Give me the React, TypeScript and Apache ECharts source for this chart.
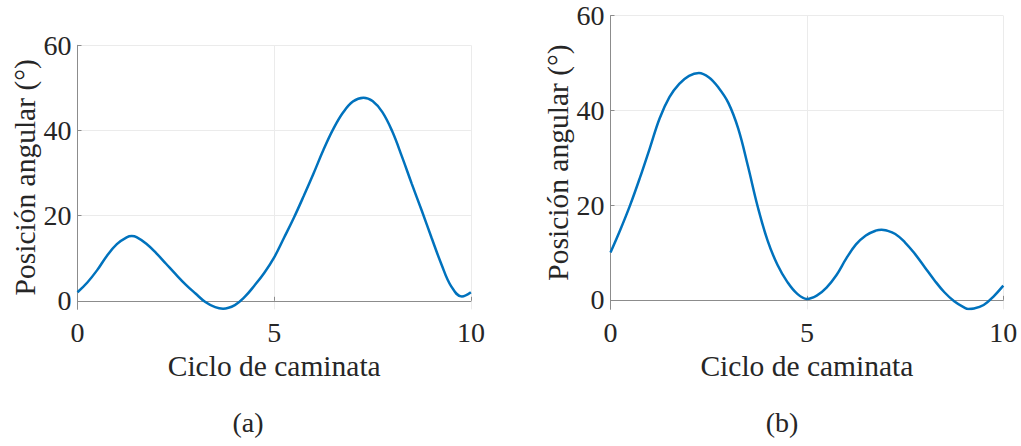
import React, { useEffect, useRef } from "react";
import * as echarts from "echarts";

const xTicks = [0, 5, 10];
const yTicks = [0, 20, 40, 60];

const xA = [0, 0.25, 0.5, 0.75, 1.0, 1.25, 1.38, 1.5, 1.75, 2.0, 2.25, 2.5, 2.75, 3.0, 3.25, 3.5, 3.7, 4.0, 4.25, 4.5, 4.75, 5.0, 5.25, 5.5, 5.75, 6.0, 6.25, 6.5, 6.75, 7.0, 7.27, 7.5, 7.75, 8.0, 8.25, 8.5, 8.75, 9.0, 9.25, 9.5, 9.77, 10.0];
const yA = [2.0, 4.3, 7.2, 10.6, 13.3, 14.9, 15.2, 14.95, 13.4, 11.2, 8.7, 6.2, 3.8, 1.7, -0.3, -1.5, -1.85, -1.0, 0.9, 3.6, 6.6, 10.2, 14.8, 19.5, 24.6, 29.9, 35.4, 40.3, 44.2, 46.8, 47.7, 46.9, 44.3, 39.8, 33.8, 27.4, 21.2, 14.8, 8.6, 3.4, 1.0, 2.0];

const xB = [0, 0.25, 0.5, 0.75, 1.0, 1.25, 1.5, 1.75, 2.0, 2.25, 2.5, 2.75, 3.0, 3.25, 3.5, 3.75, 4.0, 4.25, 4.5, 4.75, 5.0, 5.25, 5.5, 5.75, 6.0, 6.25, 6.5, 6.75, 6.9, 7.0, 7.25, 7.5, 7.75, 8.0, 8.25, 8.5, 8.75, 9.0, 9.11, 9.25, 9.5, 9.75, 10.0];
const yB = [10.0, 14.8, 20.0, 25.8, 32.0, 38.3, 42.8, 45.6, 47.3, 47.9, 47.0, 44.8, 41.6, 36.2, 28.2, 19.6, 12.5, 7.4, 3.8, 1.3, 0.2, 0.9, 2.6, 5.2, 8.7, 11.7, 13.6, 14.6, 14.8, 14.7, 13.9, 12.1, 9.7, 6.9, 4.1, 1.6, -0.3, -1.6, -1.95, -1.85, -1.1, 0.7, 3.0];

const FONT = "'Liberation Serif', 'DejaVu Serif', serif";
const TXT = "#262626";

function xAxis(gridIndex: number) {
  return {
    type: "value",
    gridIndex,
    min: 0,
    max: 10,
    interval: 5,
    name: "Ciclo de caminata",
    nameLocation: "middle",
    nameGap: 41,
    nameTextStyle: { fontFamily: FONT, fontSize: 29.5, color: TXT },
    axisLine: { show: true, lineStyle: { color: "#8c8c8c", width: 1 } },
    axisTick: { show: true, inside: true, length: 4, lineStyle: { color: "#8c8c8c" }, customValues: xTicks },
    axisLabel: { fontFamily: FONT, fontSize: 28, color: TXT, margin: 9, customValues: xTicks },
    splitLine: { show: true, lineStyle: { color: "#ebebeb", width: 1 } },
  };
}

function yAxis(gridIndex: number) {
  return {
    type: "value",
    gridIndex,
    min: -2,
    max: 60,
    name: "Posición angular (°)",
    nameLocation: "middle",
    nameGap: 38,
    nameTextStyle: { fontFamily: FONT, fontSize: 29.5, color: TXT },
    axisLine: { show: true, lineStyle: { color: "#8c8c8c", width: 1 } },
    axisTick: { show: true, inside: true, length: 4, lineStyle: { color: "#8c8c8c" }, customValues: yTicks },
    axisLabel: { fontFamily: FONT, fontSize: 28, color: TXT, margin: 6, customValues: yTicks },
    splitLine: { show: true, lineStyle: { color: "#ebebeb", width: 1 } },
  };
}

export default function App() {
  const ref = useRef<HTMLDivElement>(null);
  useEffect(() => {
    if (!ref.current) return;
    const chart = echarts.init(ref.current, undefined, { renderer: "svg" });
    const lineSeries = (xs: number[], ys: number[], idx: number) => ({
      type: "line",
      xAxisIndex: idx,
      yAxisIndex: idx,
      data: xs.map((x, i) => [x, ys[i]]),
      smooth: 0.4,
      showSymbol: false,
      clip: true,
      lineStyle: { color: "#0072BD", width: 2.5 },
    });
    chart.setOption({
      animation: false,
      backgroundColor: "#ffffff",
      grid: [
        { left: 77.5, top: 45.3, width: 393.4, height: 264, containLabel: false, outerBoundsMode: "none" },
        { left: 610.5, top: 15.7, width: 392.8, height: 293.6, containLabel: false, outerBoundsMode: "none" },
      ],
      xAxis: [xAxis(0), xAxis(1)],
      yAxis: [yAxis(0), yAxis(1)],
      series: [lineSeries(xA, yA, 0), lineSeries(xB, yB, 1)],
      graphic: [
        { type: "text", x: 248, y: 422, style: { text: "(a)", font: `28px ${FONT}`, fill: TXT, textAlign: "center", textVerticalAlign: "middle" } },
        { type: "text", x: 782, y: 422, style: { text: "(b)", font: `28px ${FONT}`, fill: TXT, textAlign: "center", textVerticalAlign: "middle" } },
      ],
    });
    return () => chart.dispose();
  }, []);
  return <div ref={ref} style={{ position: "absolute", left: 0, top: 0, width: 1021, height: 446 }} />;
}
